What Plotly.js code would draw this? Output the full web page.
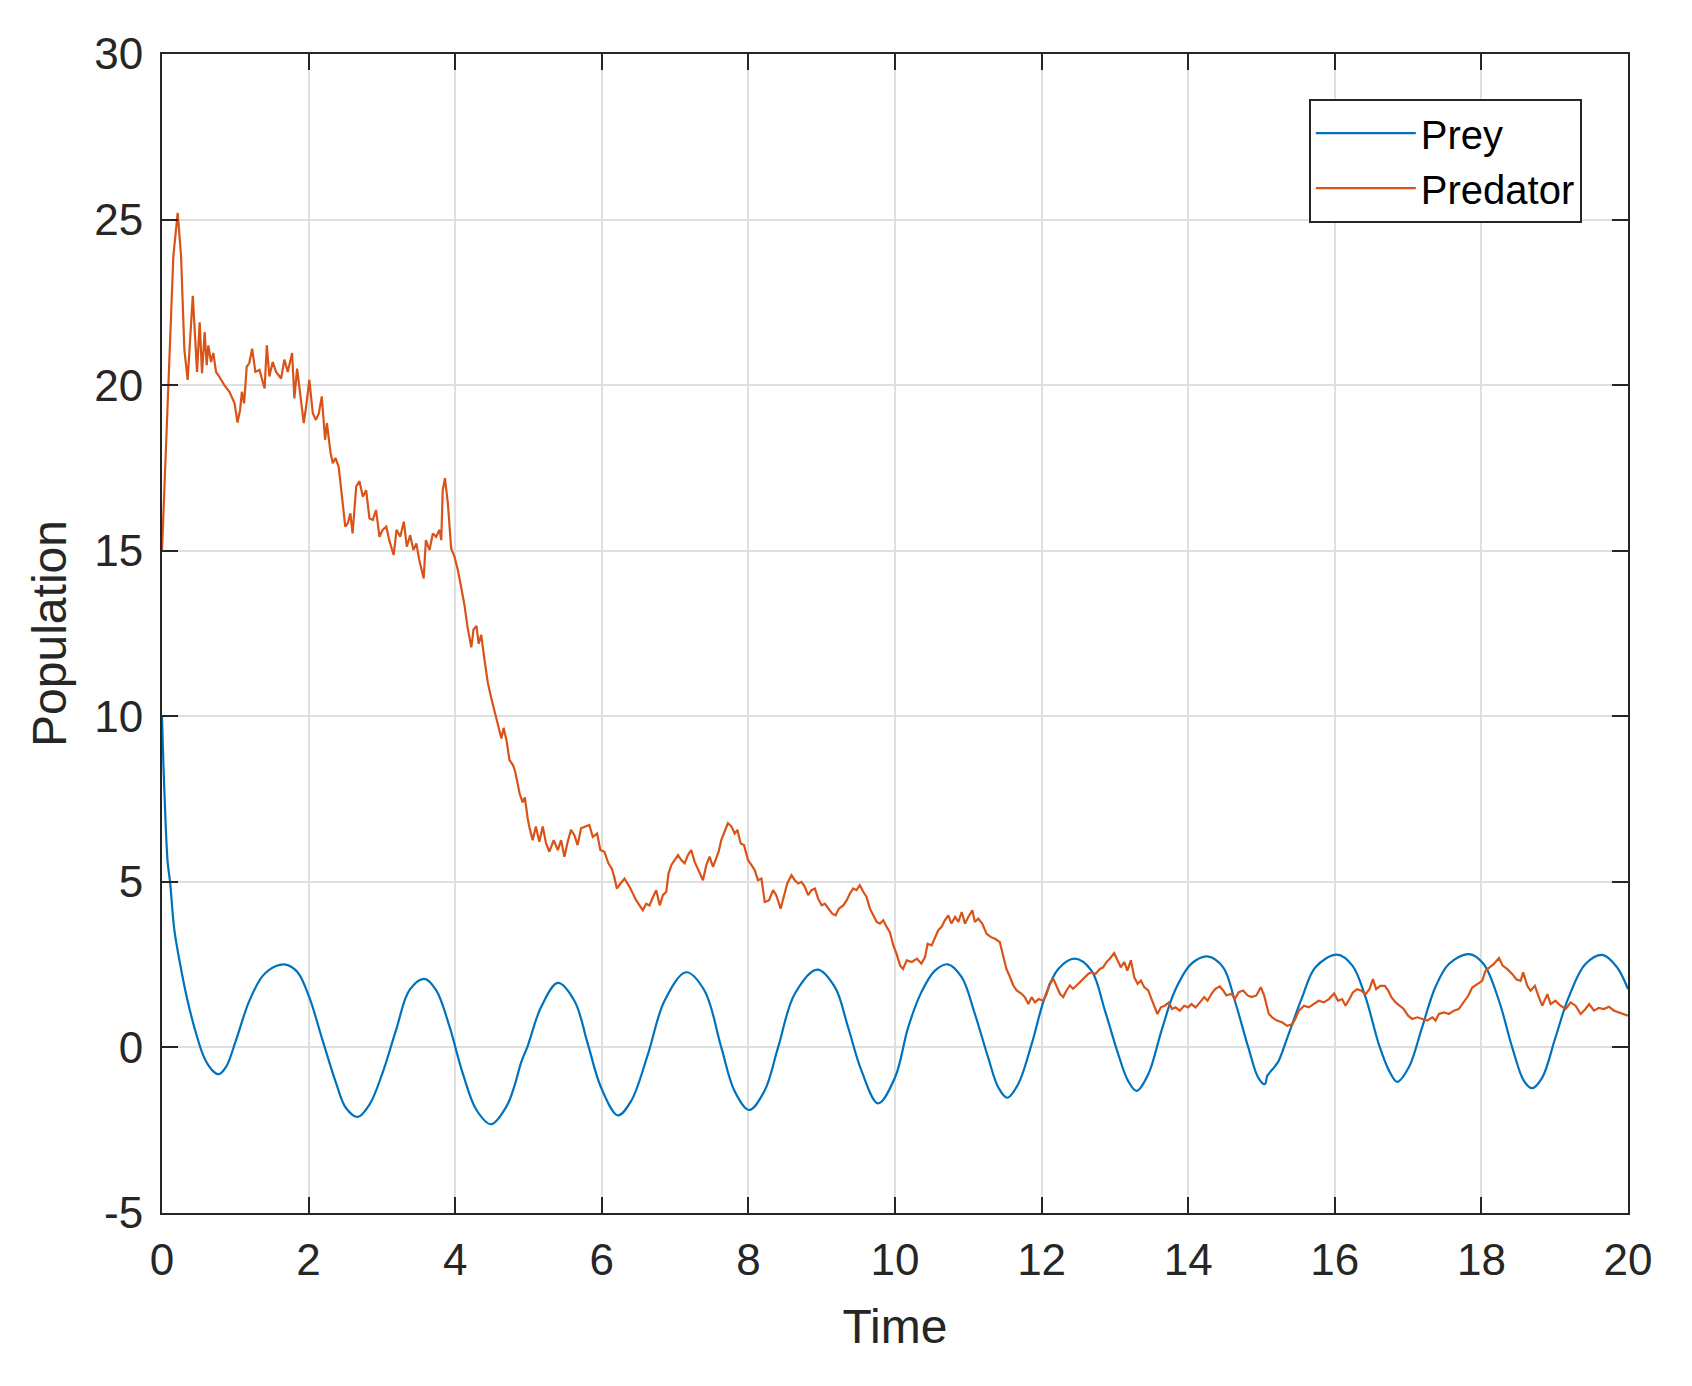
<!DOCTYPE html>
<html>
<head>
<meta charset="utf-8">
<script src="https://cdn.plot.ly/plotly-3.0.1.min.js"></script>
<style>
  html, body { margin: 0; padding: 0; background: #fff; }
</style>
</head>
<body>
<div id="graph"></div>
<script>
// values
var preyT = [0, 0.032, 0.077, 0.11, 0.168, 0.26, 0.35, 0.464, 0.578, 0.69, 0.774, 0.874, 1.01, 1.19, 1.374, 1.556, 1.69, 1.85, 2.01, 2.19, 2.375, 2.51, 2.67, 2.83, 3.01, 3.195, 3.376, 3.58, 3.74, 3.92, 4.10, 4.29, 4.49, 4.70, 4.81, 4.90, 4.99,
  5.17, 5.40, 5.626, 5.81, 5.99, 6.22, 6.40, 6.63, 6.856, 7.15, 7.40, 7.63, 7.81, 8.01, 8.22, 8.405, 8.633, 8.94, 9.18, 9.36, 9.544, 9.77,
  10.0, 10.18, 10.36, 10.545, 10.72, 10.91, 11.09, 11.27, 11.41, 11.53, 11.68, 11.864, 12.045, 12.227, 12.455, 12.68, 12.864, 13.045, 13.18, 13.295, 13.455, 13.636, 13.82, 14.045, 14.264, 14.477, 14.636, 14.82, 14.955, 15.045,
  15.08, 15.12, 15.18, 15.235, 15.37, 15.554, 15.736, 16.03, 16.24, 16.42, 16.60, 16.74, 16.85, 17.01, 17.19, 17.37, 17.556, 17.83, 18.03, 18.24, 18.42, 18.58, 18.69, 18.83, 19.01, 19.19, 19.42, 19.66, 19.85, 20.0];
var preyV = [10, 7.77, 5.6, 5.0, 3.56, 2.37, 1.4, 0.43, -0.32, -0.70, -0.81, -0.59, 0.22, 1.4, 2.16, 2.46, 2.5, 2.27, 1.51, 0.22, -1.08, -1.83, -2.10, -1.73, -0.76, 0.54, 1.73, 2.07, 1.73, 0.65, -0.76, -1.89, -2.32, -1.78, -1.15, -0.45, 0.05,
  1.21, 1.95, 1.41, 0.10, -1.21, -2.05, -1.62, -0.20, 1.41, 2.27, 1.72, 0.0, -1.31, -1.89, -1.31, 0.0, 1.62, 2.35, 1.82, 0.61, -0.71, -1.69,
  -0.91, 0.61, 1.67, 2.32, 2.51, 2.12, 1.01, -0.30, -1.21, -1.52, -1.11, 0.10, 1.52, 2.37, 2.68, 2.32, 1.11, -0.20, -1.01, -1.31, -0.81, 0.51, 1.72, 2.53, 2.75, 2.42, 1.41, 0.0, -0.91, -1.11,
  -0.85, -0.74, -0.58, -0.40, 0.40, 1.51, 2.42, 2.80, 2.47, 1.51, 0.10, -0.70, -1.04, -0.60, 0.60, 1.81, 2.52, 2.82, 2.52, 1.41, 0.0, -1.01, -1.23, -0.91, 0.30, 1.51, 2.52, 2.79, 2.42, 1.76];

var predT = [0, 0.045, 0.082, 0.155, 0.214, 0.26, 0.305, 0.35, 0.42, 0.478, 0.514, 0.546, 0.582, 0.61, 0.632, 0.669, 0.70, 0.737, 0.78, 0.85, 0.92, 0.99,
  1.03, 1.065, 1.09, 1.12, 1.156, 1.19, 1.23, 1.274, 1.33, 1.40, 1.43, 1.465, 1.51, 1.556, 1.625, 1.67, 1.715, 1.775, 1.806, 1.843, 1.884, 1.934, 1.966,
  2.01, 2.057, 2.10, 2.14, 2.18, 2.225, 2.25, 2.30, 2.33, 2.366, 2.41, 2.44, 2.466, 2.50, 2.535, 2.57, 2.60, 2.65, 2.694, 2.74, 2.785, 2.83, 2.876, 2.92, 2.967,
  3.01, 3.06, 3.10, 3.16, 3.20, 3.25, 3.30, 3.34, 3.386, 3.43, 3.47, 3.51, 3.57, 3.60, 3.65, 3.695, 3.74, 3.786, 3.81, 3.83, 3.86, 3.90, 3.945, 3.99,
  4.036, 4.08, 4.127, 4.17, 4.22, 4.25, 4.29, 4.32, 4.355, 4.40, 4.446, 4.49, 4.537, 4.58, 4.63, 4.66, 4.70, 4.74, 4.79, 4.82, 4.88, 4.92, 4.95, 4.99,
  5.01, 5.057, 5.10, 5.148, 5.194, 5.24, 5.285, 5.344, 5.40, 5.444, 5.49, 5.535, 5.58, 5.626, 5.67, 5.717, 5.786, 5.83, 5.877, 5.936, 5.98,
  6.036, 6.09, 6.137, 6.17, 6.205, 6.255, 6.31, 6.378, 6.42, 6.47, 6.515, 6.56, 6.606, 6.65, 6.70, 6.743, 6.79, 6.834, 6.88, 6.91, 6.95, 6.993,
  7.04, 7.084, 7.13, 7.175, 7.22, 7.266, 7.32, 7.38, 7.426, 7.47, 7.517, 7.56, 7.594, 7.63, 7.677, 7.72, 7.77, 7.813, 7.85, 7.895, 7.94, 7.995,
  8.04, 8.087, 8.13, 8.178, 8.223, 8.28, 8.337, 8.38, 8.44, 8.487, 8.53, 8.588, 8.633, 8.68, 8.724, 8.77, 8.815, 8.86, 8.907, 8.95,
  9.0, 9.043, 9.09, 9.143, 9.19, 9.234, 9.294, 9.34, 9.385, 9.43, 9.476, 9.52, 9.567, 9.61, 9.658, 9.70, 9.75, 9.795, 9.84, 9.886, 9.93, 9.977,
  10.02, 10.07, 10.11, 10.16, 10.23, 10.30, 10.36, 10.41, 10.445, 10.50, 10.545, 10.59, 10.636, 10.68, 10.727, 10.77, 10.82, 10.864, 10.91, 10.955,
  11.0, 11.055, 11.09, 11.136, 11.19, 11.25, 11.31, 11.364, 11.43, 11.477, 11.52, 11.57, 11.614, 11.66, 11.727, 11.77, 11.82, 11.864, 11.91, 11.96,
  12.02, 12.07, 12.11, 12.16, 12.20, 12.25, 12.295, 12.34, 12.386, 12.43, 12.477, 12.545, 12.59, 12.636, 12.68, 12.736, 12.795, 12.84, 12.886, 12.93, 12.99,
  13.036, 13.08, 13.127, 13.17, 13.218, 13.264, 13.31, 13.355, 13.40, 13.455, 13.50, 13.545, 13.58, 13.627, 13.68, 13.736, 13.78, 13.827, 13.886, 13.945,
  14.0, 14.045, 14.1, 14.16, 14.218, 14.264, 14.318, 14.37, 14.43, 14.477, 14.52, 14.59, 14.636, 14.69, 14.75, 14.81, 14.864, 14.93, 14.99,
  15.036, 15.10, 15.145, 15.21, 15.28, 15.35, 15.42, 15.46, 15.51, 15.58, 15.645, 15.71, 15.78, 15.85, 15.92, 15.99,
  16.045, 16.10, 16.146, 16.20, 16.246, 16.305, 16.364, 16.42, 16.473, 16.52, 16.564, 16.62, 16.683, 16.73, 16.774, 16.83, 16.883, 16.94,
  17.0, 17.056, 17.124, 17.19, 17.26, 17.33, 17.374, 17.42, 17.49, 17.556, 17.625, 17.69, 17.76, 17.82, 17.875, 17.943,
  18.01, 18.057, 18.11, 18.17, 18.24, 18.29, 18.35, 18.42, 18.475, 18.535, 18.57, 18.626, 18.67, 18.73, 18.785, 18.83, 18.90, 18.944,
  19.01, 19.08, 19.15, 19.217, 19.285, 19.354, 19.42, 19.47, 19.536, 19.60, 19.67, 19.74, 19.81, 19.877, 19.945, 20.0];
var predV = [15.0, 17.5, 20.0, 23.9, 25.2, 23.9, 21.07, 20.16, 22.7, 20.4, 21.9, 20.36, 21.6, 20.6, 21.2, 20.7, 20.97, 20.4, 20.26, 20.0, 19.8, 19.45,
  18.87, 19.25, 19.8, 19.45, 20.56, 20.66, 21.1, 20.4, 20.46, 19.9, 21.2, 20.26, 20.7, 20.4, 20.2, 20.77, 20.4, 20.97, 19.6, 20.5, 19.76, 18.85, 19.35,
  20.16, 19.15, 18.95, 19.15, 19.66, 18.35, 18.85, 17.94, 17.64, 17.8, 17.54, 16.94, 16.43, 15.73, 15.83, 16.13, 15.52, 16.94, 17.1, 16.63, 16.83, 15.98, 15.93, 16.23, 15.42,
  15.63, 15.73, 15.32, 14.87, 15.63, 15.42, 15.88, 15.12, 15.47, 15.02, 15.22, 14.72, 14.16, 15.32, 15.02, 15.52, 15.42, 15.63, 15.32, 16.83, 17.19, 16.43, 15.07, 14.82,
  14.42, 13.91, 13.35, 12.67, 12.08, 12.62, 12.73, 12.19, 12.46, 11.7, 11.0, 10.57, 10.14, 9.71, 9.33, 9.65, 9.28, 8.68, 8.52, 8.31, 7.66, 7.4, 7.55, 6.9,
  6.67, 6.26, 6.67, 6.21, 6.67, 6.16, 5.91, 6.26, 5.96, 6.26, 5.76, 6.21, 6.57, 6.41, 6.11, 6.62, 6.67, 6.72, 6.36, 6.46, 5.96,
  5.91, 5.56, 5.40, 5.15, 4.80, 4.95, 5.10, 4.85, 4.65, 4.44, 4.29, 4.14, 4.34, 4.29, 4.55, 4.75, 4.29, 4.60, 4.70, 5.25, 5.51, 5.66,
  5.81, 5.66, 5.56, 5.81, 5.96, 5.61, 5.35, 5.05, 5.51, 5.76, 5.45, 5.71, 5.91, 6.26, 6.52, 6.77, 6.67, 6.46, 6.57, 6.16, 6.11, 5.66,
  5.51, 5.35, 5.05, 5.10, 4.39, 4.44, 4.75, 4.60, 4.19, 4.60, 4.95, 5.20, 5.05, 4.95, 5.00, 4.85, 4.60, 4.75, 4.80, 4.50,
  4.29, 4.34, 4.19, 4.04, 3.99, 4.19, 4.29, 4.44, 4.65, 4.80, 4.75, 4.90, 4.70, 4.55, 4.19, 3.99, 3.79, 3.74, 3.84, 3.64, 3.48, 3.08,
  2.83, 2.47, 2.37, 2.63, 2.58, 2.68, 2.53, 2.73, 3.13, 3.08, 3.33, 3.54, 3.64, 3.84, 3.99, 3.74, 3.94, 3.79, 4.09, 3.74,
  3.94, 4.14, 3.79, 3.89, 3.74, 3.43, 3.33, 3.28, 3.18, 2.73, 2.37, 2.12, 1.87, 1.72, 1.62, 1.52, 1.31, 1.52, 1.36, 1.46,
  1.41, 1.62, 1.92, 2.07, 1.87, 1.62, 1.52, 1.72, 1.87, 1.77, 1.87, 2.02, 2.12, 2.22, 2.27, 2.22, 2.37, 2.42, 2.58, 2.68, 2.85,
  2.63, 2.42, 2.58, 2.32, 2.63, 2.12, 1.92, 2.02, 1.82, 1.72, 1.46, 1.21, 1.01, 1.21, 1.26, 1.36, 1.16, 1.21, 1.11, 1.26,
  1.21, 1.31, 1.21, 1.36, 1.52, 1.41, 1.62, 1.77, 1.84, 1.72, 1.57, 1.62, 1.46, 1.67, 1.72, 1.57, 1.52, 1.57, 1.82,
  1.57, 1.01, 0.91, 0.81, 0.76, 0.65, 0.70, 0.86, 1.11, 1.26, 1.21, 1.31, 1.41, 1.36, 1.46, 1.63,
  1.41, 1.46, 1.26, 1.46, 1.66, 1.76, 1.71, 1.61, 1.76, 2.06, 1.76, 1.86, 1.86, 1.71, 1.51, 1.36, 1.26, 1.16,
  0.96, 0.86, 0.91, 0.86, 0.81, 0.91, 0.81, 1.01, 1.06, 1.01, 1.11, 1.16, 1.36, 1.56, 1.81, 1.91,
  2.01, 2.32, 2.42, 2.52, 2.70, 2.47, 2.37, 2.22, 2.06, 2.01, 2.27, 1.86, 1.71, 1.86, 1.51, 1.26, 1.61, 1.31,
  1.41, 1.26, 1.16, 1.36, 1.26, 1.01, 1.16, 1.31, 1.11, 1.19, 1.16, 1.23, 1.11, 1.06, 1.01, 0.96];

var xTicks = [0, 2, 4, 6, 8, 10, 12, 14, 16, 18, 20];
var yTicks = [-5, 0, 5, 10, 15, 20, 25, 30];
var yTickLabels = ['-5', '0', '5', '10', '15', '20', '25', '30'];
var seriesNames = ['Prey', 'Predator'];

var axisColor = '#262626';
var gridColor = '#dfdfdf';

var prey = {
  x: preyT, y: preyV, name: seriesNames[0],
  type: 'scatter', mode: 'lines',
  line: {color: '#0072BD', width: 2.2, shape: 'spline', smoothing: 1}
};
var predator = {
  x: predT, y: predV, name: seriesNames[1],
  type: 'scatter', mode: 'lines',
  line: {color: '#D95319', width: 2.2}
};

function axisStyle() {
  return {
    showline: true, linecolor: axisColor, linewidth: 2,
    mirror: 'ticks',
    ticks: 'inside', ticklen: 16, tickwidth: 2, tickcolor: axisColor,
    showgrid: true, gridcolor: gridColor, gridwidth: 2,
    zeroline: false,
    tickfont: {size: 44, color: axisColor}
  };
}

var xaxis = axisStyle();
xaxis.range = [0, 20];
xaxis.tickvals = xTicks;
xaxis.ticklabelstandoff = 7;
xaxis.title = {text: 'Time', font: {size: 48, color: axisColor}, standoff: 27};

var yaxis = axisStyle();
yaxis.range = [-5, 30];
yaxis.tickvals = yTicks;
yaxis.ticktext = yTickLabels;
yaxis.ticklabelstandoff = 8;
yaxis.title = {text: 'Population', font: {size: 48, color: axisColor}, standoff: 12};

var layout = {
  width: 1692,
  height: 1386,
  margin: {l: 162, r: 64, t: 54, b: 173},
  paper_bgcolor: 'white',
  plot_bgcolor: 'white',
  font: {family: 'Liberation Sans, Arial, sans-serif', color: axisColor},
  xaxis: xaxis,
  yaxis: yaxis,
  showlegend: true,
  legend: {
    x: 0.9685, y: 0.9615, xanchor: 'right', yanchor: 'top',
    bgcolor: 'white', bordercolor: axisColor, borderwidth: 2,
    font: {size: 40, color: '#000000'},
    itemwidth: 100
  },
  hovermode: false
};

Plotly.newPlot('graph', [prey, predator], layout, {displayModeBar: false, staticPlot: true});
</script>
</body>
</html>
